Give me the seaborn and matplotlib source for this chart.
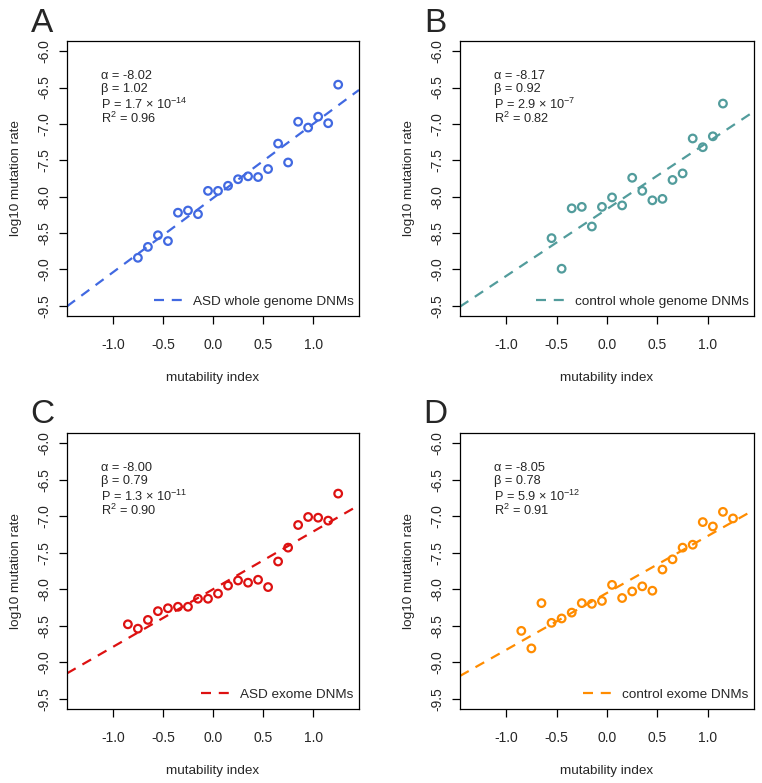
import matplotlib
matplotlib.use("Agg")
import matplotlib.pyplot as plt
from matplotlib.lines import Line2D
import numpy as np
import pandas as pd
import seaborn as sns

# --- data ---
x_a = [-0.75, -0.65, -0.55, -0.45, -0.35, -0.25, -0.15, -0.05, 0.05, 0.15, 0.25,
       0.35, 0.45, 0.55, 0.65, 0.75, 0.85, 0.95, 1.05, 1.15, 1.25]
y_a = [-8.84, -8.69, -8.53, -8.61, -8.22, -8.19, -8.24, -7.92, -7.92, -7.85, -7.76,
       -7.72, -7.73, -7.62, -7.27, -7.53, -6.97, -7.05, -6.90, -6.99, -6.46]

x_b = [-0.55, -0.45, -0.35, -0.25, -0.15, -0.05, 0.05, 0.15, 0.25, 0.35, 0.45,
       0.55, 0.65, 0.75, 0.85, 0.95, 1.05, 1.15]
y_b = [-8.57, -8.99, -8.16, -8.14, -8.41, -8.14, -8.01, -8.12, -7.74, -7.92, -8.05,
       -8.03, -7.77, -7.68, -7.20, -7.32, -7.17, -6.72]

x_c = [-0.85, -0.75, -0.65, -0.55, -0.45, -0.35, -0.25, -0.15, -0.05, 0.05, 0.15,
       0.25, 0.35, 0.45, 0.55, 0.65, 0.75, 0.85, 0.95, 1.05, 1.15, 1.25]
y_c = [-8.48, -8.54, -8.42, -8.30, -8.26, -8.24, -8.24, -8.13, -8.13, -8.06, -7.95,
       -7.88, -7.91, -7.87, -7.97, -7.62, -7.43, -7.12, -7.01, -7.02, -7.06, -6.69]

x_d = [-0.85, -0.75, -0.65, -0.55, -0.45, -0.35, -0.25, -0.15, -0.05, 0.05, 0.15,
       0.25, 0.35, 0.45, 0.55, 0.65, 0.75, 0.85, 0.95, 1.05, 1.15, 1.25]
y_d = [-8.57, -8.81, -8.19, -8.46, -8.40, -8.32, -8.19, -8.20, -8.16, -7.94, -8.12,
       -8.03, -7.96, -8.02, -7.73, -7.59, -7.43, -7.39, -7.08, -7.14, -6.94, -7.03]

panel_letters = ["A", "B", "C", "D"]
series_labels = ["ASD whole genome DNMs", "control whole genome DNMs",
                 "ASD exome DNMs", "control exome DNMs"]
alphas = [-8.02, -8.17, -8.00, -8.05]
betas = [1.02, 0.92, 0.79, 0.78]
p_mant = ["1.7", "2.9", "1.3", "5.9"]
p_exp = ["-14", "-7", "-11", "-12"]
r2 = [0.96, 0.82, 0.90, 0.91]
colors = ["#4169E1", "#529C9C", "#DD1111", "#FF8C00"]

xs = [x_a, x_b, x_c, x_d]
ys = [y_a, y_b, y_c, y_d]

x_ticks = [-1.0, -0.5, 0.0, 0.5, 1.0]
y_ticks = [-6.0, -6.5, -7.0, -7.5, -8.0, -8.5, -9.0, -9.5]

# --- style ---
sns.set_theme(style="ticks")
plt.rcParams["font.family"] = ["Liberation Sans", "DejaVu Sans"]
plt.rcParams["mathtext.fontset"] = "custom"
plt.rcParams["mathtext.rm"] = "Liberation Sans"
plt.rcParams["mathtext.it"] = "Liberation Sans:italic"
plt.rcParams["axes.unicode_minus"] = False

W, H = 762, 783
fig = plt.figure(figsize=(W / 100, H / 100), dpi=100)

# axes boxes in pixels (left, top, right, bottom)
boxes = [(67, 41, 359, 316), (460, 41, 754, 316),
         (67, 433, 359, 709), (460, 433, 754, 709)]

# baselines of the four stat lines, pixels below the axes top
stat_rows = [38, 51, 68, 82]

for i in range(4):
    l, t, r, b = boxes[i]
    ax = fig.add_axes([l / W, 1 - b / H, (r - l) / W, (b - t) / H])
    df = pd.DataFrame({"x": xs[i], "y": ys[i]})
    sns.scatterplot(data=df, x="x", y="y", ax=ax, marker="o", s=30,
                    facecolors="none", edgecolor=colors[i], linewidth=1.6,
                    zorder=3)
    ax.axline((0, alphas[i]), slope=betas[i], color=colors[i], lw=1.6,
              dashes=(4.5, 3.5), zorder=2)

    ax.set_xlim(-1.458, 1.458)
    ax.set_ylim(-9.64, -5.86)
    ax.set_xticks(x_ticks)
    ax.set_xticklabels([f"{v:.1f}" for v in x_ticks], fontsize=10)
    ax.set_yticks(y_ticks)
    ax.set_yticklabels([f"{v:.1f}" for v in y_ticks], fontsize=10,
                       rotation=90, va="center")
    ax.tick_params(axis="both", direction="out", length=5.5, width=0.9,
                   color="black")
    ax.tick_params(axis="x", pad=10)
    ax.tick_params(axis="y", pad=6)
    for sp in ax.spines.values():
        sp.set_visible(True)
        sp.set_linewidth(0.9)
        sp.set_color("black")
    ax.set_xlabel("mutability index", fontsize=9.7, labelpad=15)
    ax.set_ylabel("log10 mutation rate", fontsize=9.7, labelpad=11)

    stats = [f"α = {alphas[i]:.2f}",
             f"β = {betas[i]:.2f}",
             f"P = {p_mant[i]} × 10$^{{{p_exp[i]}}}$",
             f"R$^2$ = {r2[i]:.2f}"]
    hgt = b - t
    for k, s in enumerate(stats):
        ax.text(0.117, 1 - stat_rows[k] / hgt, s, transform=ax.transAxes,
                fontsize=9.2, va="baseline", ha="left")

    handle = Line2D([0], [0], color=colors[i], lw=1.6, dashes=(4.5, 3.5))
    ax.legend([handle], [series_labels[i]], loc="lower right", frameon=False,
              fontsize=9.7, handlelength=2.1, handletextpad=0.8,
              borderaxespad=0.0, bbox_to_anchor=(1.0, 0.01))

    fig.text((l - 25) / W, 1 - (t - 18) / H, panel_letters[i], fontsize=24,
             ha="center", va="center")

fig.savefig("out.png", dpi=100, facecolor="white")
